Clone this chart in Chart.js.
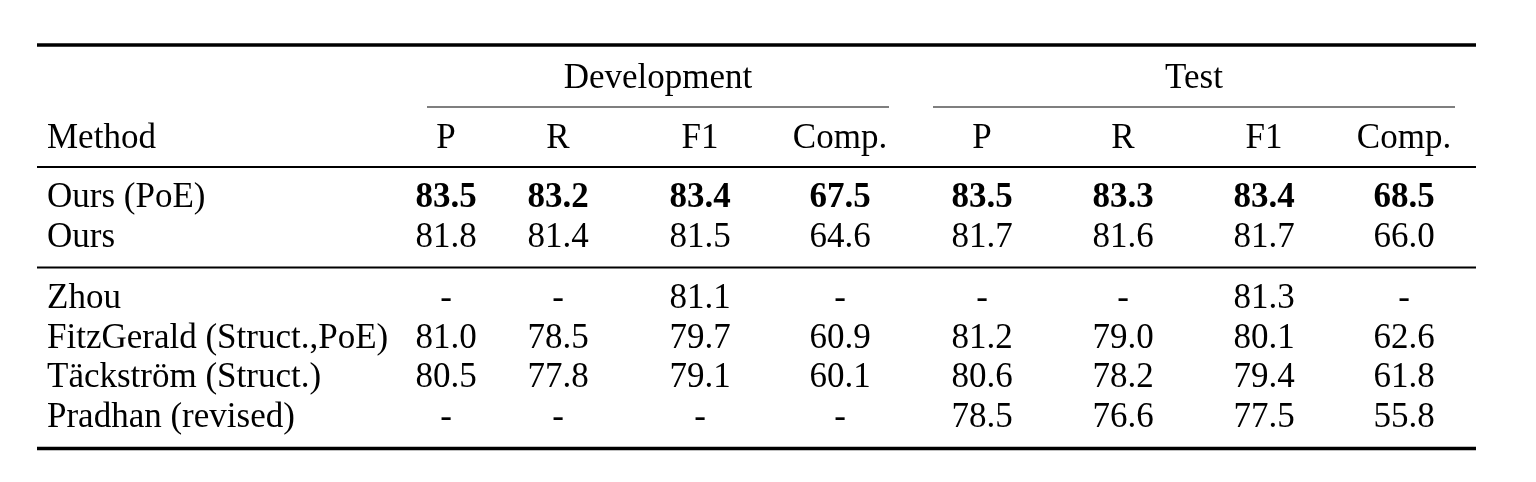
<!DOCTYPE html>
<html>
<head>
<meta charset="utf-8">
<script src="https://cdn.jsdelivr.net/npm/chart.js@4/dist/chart.umd.min.js"></script>
<style>
  html, body { margin: 0; padding: 0; background: #fff; }
  canvas { display: block; }
</style>
</head>
<body>
<canvas id="table" width="1536" height="482"></canvas>
<script>
// ---------- data ----------
const groups = ["Development", "Test"];
const columns = ["P", "R", "F1", "Comp.", "P", "R", "F1", "Comp."];
const methods = ["Ours (PoE)", "Ours", "Zhou", "FitzGerald (Struct.,PoE)", "Täckström (Struct.)", "Pradhan (revised)"];
const devP    = [83.5, 81.8, null, 81.0, 80.5, null];
const devR    = [83.2, 81.4, null, 78.5, 77.8, null];
const devF1   = [83.4, 81.5, 81.1, 79.7, 79.1, null];
const devComp = [67.5, 64.6, null, 60.9, 60.1, null];
const testP    = [83.5, 81.7, null, 81.2, 80.6, 78.5];
const testR    = [83.3, 81.6, null, 79.0, 78.2, 76.6];
const testF1   = [83.4, 81.7, 81.3, 80.1, 79.4, 77.5];
const testComp = [68.5, 66.0, null, 62.6, 61.8, 55.8];
const boldRows = [0];

// ---------- layout (pixel units of the x / y scales) ----------
const colX = [446, 558, 700, 840, 982, 1123, 1264, 1404];
const methodX = 47;
const groupSpan = [[427, 889], [933, 1455]];
const groupY = 88;
const headerY = 148;
const rowY = [207, 247, 308, 348, 387, 427];
const ruleLeft = 37, ruleRight = 1476;
const rules = [
  { y: 45, w: 3.5 },
  { y: 167, w: 2 },
  { y: 267.5, w: 2 },
  { y: 448.5, w: 3.5 }
];

const FONT = "35px 'Liberation Serif', 'Times New Roman', serif";
const BOLD = "bold 35px 'Liberation Serif', 'Times New Roman', serif";

const valueCols = [devP, devR, devF1, devComp, testP, testR, testF1, testComp];

const datasets = valueCols.map((vals, c) => ({
  label: columns[c],
  data: vals.map((v, i) => ({ x: colX[c], y: rowY[i], v: v, row: i })),
  pointRadius: 0,
  showLine: false
}));

// ---------- table painter ----------
const tablePlugin = {
  id: "tablePainter",
  afterDatasetsDraw(chart) {
    const ctx = chart.ctx;
    const xs = chart.scales.x, ys = chart.scales.y;
    const px = v => xs.getPixelForValue(v);
    const py = v => ys.getPixelForValue(v);
    ctx.save();
    ctx.fillStyle = "#000";
    ctx.textBaseline = "alphabetic";

    // rules
    ctx.strokeStyle = "#000";
    rules.forEach(r => {
      ctx.lineWidth = r.w;
      ctx.beginPath();
      ctx.moveTo(px(ruleLeft), py(r.y));
      ctx.lineTo(px(ruleRight), py(r.y));
      ctx.stroke();
    });
    ctx.strokeStyle = "#555";
    ctx.lineWidth = 1.5;
    groupSpan.forEach(s => {
      ctx.beginPath();
      ctx.moveTo(px(s[0]), py(107));
      ctx.lineTo(px(s[1]), py(107));
      ctx.stroke();
    });

    // group headers
    ctx.font = FONT;
    ctx.textAlign = "center";
    groups.forEach((g, i) => {
      ctx.fillText(g, px((groupSpan[i][0] + groupSpan[i][1]) / 2), py(groupY));
    });

    // column headers
    ctx.textAlign = "left";
    ctx.fillText("Method", px(methodX), py(headerY));
    ctx.textAlign = "center";
    columns.forEach((c, i) => ctx.fillText(c, px(colX[i]), py(headerY)));

    // method names
    ctx.textAlign = "left";
    methods.forEach((m, i) => ctx.fillText(m, px(methodX), py(rowY[i])));

    // cells
    ctx.textAlign = "center";
    chart.data.datasets.forEach((ds, d) => {
      const meta = chart.getDatasetMeta(d);
      meta.data.forEach((pt, i) => {
        const cell = ds.data[i];
        ctx.font = boldRows.includes(cell.row) ? BOLD : FONT;
        ctx.fillText(cell.v === null ? "-" : cell.v.toFixed(1), pt.x, pt.y);
      });
    });
    ctx.restore();
  }
};

new Chart(document.getElementById("table"), {
  type: "scatter",
  data: { datasets: datasets },
  options: {
    responsive: false,
    animation: false,
    events: [],
    layout: { padding: 0 },
    plugins: { legend: { display: false }, tooltip: { enabled: false } },
    scales: {
      x: { type: "linear", min: 0, max: 1536, display: false },
      y: { type: "linear", min: 0, max: 482, reverse: true, display: false }
    }
  },
  plugins: [tablePlugin]
});
</script>
</body>
</html>
